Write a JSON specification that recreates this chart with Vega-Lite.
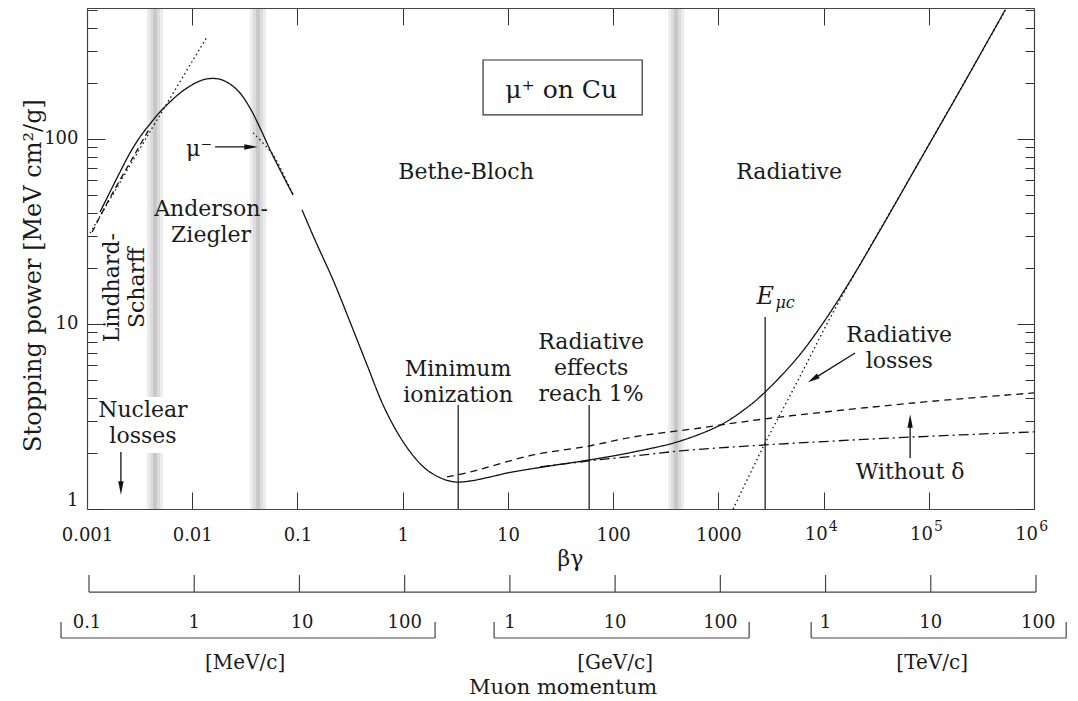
{
  "$schema": "https://vega.github.io/schema/vega-lite/v6.json",
  "width": 947,
  "height": 501,
  "autosize": {"type": "none"},
  "padding": {"left": 87, "top": 8, "right": 44, "bottom": 192},
  "background": "white",
  "config": {
    "view": {"stroke": null},
    "axis": {"labelFont": "DejaVu Serif", "titleFont": "DejaVu Serif", "labelColor": "#1a1a1a", "titleColor": "#1a1a1a", "tickColor": "#333", "domainColor": "#444", "domainWidth": 1.2, "tickWidth": 1, "grid": false},
    "text": {"font": "DejaVu Serif", "color": "#1a1a1a"}
  },
  "datasets": {
    "bands": [
      {"band": "Lindhard-Scharff / Anderson-Ziegler", "shade": "edge", "bg": 0.003718, "bg2": 0.005278, "s": 1, "s2": 510},
      {"band": "Anderson-Ziegler / Bethe-Bloch", "shade": "edge", "bg": 0.03543, "bg2": 0.05029, "s": 1, "s2": 510},
      {"band": "Bethe-Bloch / Radiative", "shade": "edge", "bg": 333.3, "bg2": 473.1, "s": 1, "s2": 510},
      {"band": "Lindhard-Scharff / Anderson-Ziegler", "shade": "mid", "bg": 0.003971, "bg2": 0.004941, "s": 1, "s2": 510},
      {"band": "Anderson-Ziegler / Bethe-Bloch", "shade": "mid", "bg": 0.03785, "bg2": 0.0471, "s": 1, "s2": 510},
      {"band": "Bethe-Bloch / Radiative", "shade": "mid", "bg": 355.9, "bg2": 443.0, "s": 1, "s2": 510},
      {"band": "Lindhard-Scharff / Anderson-Ziegler", "shade": "core", "bg": 0.00424, "bg2": 0.004628, "s": 1, "s2": 510},
      {"band": "Anderson-Ziegler / Bethe-Bloch", "shade": "core", "bg": 0.04042, "bg2": 0.0441, "s": 1, "s2": 510},
      {"band": "Bethe-Bloch / Radiative", "shade": "core", "bg": 379.9, "bg2": 414.9, "s": 1, "s2": 510}
    ],
    "patch": [{"bg": 0.0036, "bg2": 0.0056, "s": 2.01, "s2": 4.03}],
    "box": [{"bg": 5.81, "bg2": 189, "s": 135, "s2": 267}],
    "curves": [
      {"curve": "total (low βγ)", "bg": 0.00133, "s": 40.3},
      {"curve": "total (low βγ)", "bg": 0.001654, "s": 51.7},
      {"curve": "total (low βγ)", "bg": 0.00206, "s": 66.3},
      {"curve": "total (low βγ)", "bg": 0.002563, "s": 84.0},
      {"curve": "total (low βγ)", "bg": 0.00319, "s": 102.5},
      {"curve": "total (low βγ)", "bg": 0.003972, "s": 120.5},
      {"curve": "total (low βγ)", "bg": 0.00494, "s": 140},
      {"curve": "total (low βγ)", "bg": 0.00615, "s": 158.5},
      {"curve": "total (low βγ)", "bg": 0.00766, "s": 177},
      {"curve": "total (low βγ)", "bg": 0.00953, "s": 193},
      {"curve": "total (low βγ)", "bg": 0.01186, "s": 206},
      {"curve": "total (low βγ)", "bg": 0.01476, "s": 212},
      {"curve": "total (low βγ)", "bg": 0.01837, "s": 210},
      {"curve": "total (low βγ)", "bg": 0.02286, "s": 198},
      {"curve": "total (low βγ)", "bg": 0.02846, "s": 177},
      {"curve": "total (low βγ)", "bg": 0.03541, "s": 147},
      {"curve": "total (low βγ)", "bg": 0.0441, "s": 114.7},
      {"curve": "total (low βγ)", "bg": 0.05495, "s": 87.3},
      {"curve": "total (low βγ)", "bg": 0.0684, "s": 68},
      {"curve": "total (low βγ)", "bg": 0.0908, "s": 49.8},
      {"curve": "total", "bg": 0.1107, "s": 41.3},
      {"curve": "total", "bg": 0.1469, "s": 28.4},
      {"curve": "total", "bg": 0.218, "s": 17.3},
      {"curve": "total", "bg": 0.3162, "s": 10.25},
      {"curve": "total", "bg": 0.459, "s": 6.0},
      {"curve": "total", "bg": 0.6514, "s": 3.65},
      {"curve": "total", "bg": 0.944, "s": 2.45},
      {"curve": "total", "bg": 1.312, "s": 1.887},
      {"curve": "total", "bg": 1.706, "s": 1.625},
      {"curve": "total", "bg": 2.42, "s": 1.453},
      {"curve": "total", "bg": 3.15, "s": 1.40},
      {"curve": "total", "bg": 4.37, "s": 1.417},
      {"curve": "total", "bg": 6.77, "s": 1.489},
      {"curve": "total", "bg": 9.82, "s": 1.565},
      {"curve": "total", "bg": 25.2, "s": 1.71},
      {"curve": "total", "bg": 59.2, "s": 1.84},
      {"curve": "total", "bg": 155, "s": 2.03},
      {"curve": "total", "bg": 434, "s": 2.33},
      {"curve": "total", "bg": 1040, "s": 2.84},
      {"curve": "total", "bg": 1799, "s": 3.472},
      {"curve": "total", "bg": 2786, "s": 4.29},
      {"curve": "total", "bg": 5610, "s": 6.55},
      {"curve": "total", "bg": 9910, "s": 10.13},
      {"curve": "total", "bg": 17900, "s": 17.08},
      {"curve": "total", "bg": 34500, "s": 32.2},
      {"curve": "total", "bg": 82800, "s": 76.9},
      {"curve": "total", "bg": 199000, "s": 184},
      {"curve": "total", "bg": 532000, "s": 498},
      {"curve": "ionization, without δ", "bg": 2.64, "s": 1.49},
      {"curve": "ionization, without δ", "bg": 4.37, "s": 1.585},
      {"curve": "ionization, without δ", "bg": 17.4, "s": 1.959},
      {"curve": "ionization, without δ", "bg": 59.2, "s": 2.19},
      {"curve": "ionization, without δ", "bg": 155, "s": 2.45},
      {"curve": "ionization, without δ", "bg": 672, "s": 2.74},
      {"curve": "ionization, without δ", "bg": 2786, "s": 3.07},
      {"curve": "ionization, without δ", "bg": 71100, "s": 3.74},
      {"curve": "ionization, without δ", "bg": 1000000, "s": 4.24},
      {"curve": "ionization", "bg": 20.2, "s": 1.687},
      {"curve": "ionization", "bg": 59.2, "s": 1.82},
      {"curve": "ionization", "bg": 155, "s": 1.93},
      {"curve": "ionization", "bg": 434, "s": 2.06},
      {"curve": "ionization", "bg": 2786, "s": 2.22},
      {"curve": "ionization", "bg": 71100, "s": 2.45},
      {"curve": "ionization", "bg": 1000000, "s": 2.61},
      {"curve": "radiative", "bg": 1383, "s": 1},
      {"curve": "radiative", "bg": 2667, "s": 2.163},
      {"curve": "radiative", "bg": 5610, "s": 4.86},
      {"curve": "radiative", "bg": 11560, "s": 10.8},
      {"curve": "radiative", "bg": 25950, "s": 24.5},
      {"curve": "radiative", "bg": 59700, "s": 55.7},
      {"curve": "radiative", "bg": 544500, "s": 504},
      {"curve": "Lindhard-Scharff", "bg": 0.00112, "s": 31.4},
      {"curve": "Lindhard-Scharff", "bg": 0.001484, "s": 42.9},
      {"curve": "Lindhard-Scharff", "bg": 0.00206, "s": 60},
      {"curve": "Lindhard-Scharff", "bg": 0.002858, "s": 83},
      {"curve": "Lindhard-Scharff", "bg": 0.003972, "s": 115},
      {"curve": "Anderson-Ziegler fit", "bg": 0.00107, "s": 31},
      {"curve": "Anderson-Ziegler fit", "bg": 0.0038, "s": 105},
      {"curve": "Anderson-Ziegler fit", "bg": 0.01384, "s": 356},
      {"curve": "μ⁻", "bg": 0.0379, "s": 107.8},
      {"curve": "μ⁻", "bg": 0.0586, "s": 82},
      {"curve": "μ⁻", "bg": 0.0796, "s": 58.6},
      {"curve": "μ⁻", "bg": 0.0908, "s": 50.4}
    ],
    "markers": [
      {"name": "Minimum ionization", "bg": 3.37, "s": 1, "s2": 3.65},
      {"name": "Radiative effects reach 1%", "bg": 59.2, "s": 1, "s2": 3.65},
      {"name": "Eμc", "bg": 2786, "s": 1, "s2": 10.9}
    ],
    "arrows": [
      {"name": "μ⁻", "bg": 0.0165, "bg2": 0.0379, "s": 90.5, "s2": 90.5},
      {"name": "Nuclear losses", "bg": 0.0021, "bg2": 0.0021, "s": 2.03, "s2": 1.3},
      {"name": "Radiative losses", "bg": 19950, "bg2": 8318, "s": 6.97, "s2": 5.11},
      {"name": "Without δ", "bg": 66500, "bg2": 66500, "s": 1.888, "s2": 2.9}
    ],
    "heads": [
      {"name": "μ⁻", "dir": "right", "bg": 0.03622, "s": 90.5},
      {"name": "Nuclear losses", "dir": "down", "bg": 0.0021, "s": 1.299},
      {"name": "Without δ", "dir": "up", "bg": 66500, "s": 2.99},
      {"name": "Radiative losses", "dir": "down-left", "bg": 7962, "s": 5.04}
    ],
    "labels": [
      {"label": "Bethe-Bloch", "bg": 4.0, "s": 66.3},
      {"label": "Radiative", "bg": 4710, "s": 66.3},
      {"label": "Anderson-\nZiegler", "bg": 0.0151, "s": 41.8},
      {"label": "Nuclear\nlosses", "bg": 0.0034, "s": 3.43},
      {"label": "Minimum\nionization", "bg": 3.36, "s": 5.71},
      {"label": "Radiative\neffects\nreach 1%", "bg": 61.8, "s": 7.99},
      {"label": "Radiative\nlosses", "bg": 52360, "s": 8.72},
      {"label": "Without δ", "bg": 66500, "s": 1.585},
      {"label": "μ⁻", "bg": 0.01161, "s": 88.3}
    ],
    "vlabels": [{"label": "Lindhard-\nScharff", "bg": 0.001729, "s": 15.7}],
    "boxlabel": [{"label": "μ⁺ on Cu", "bg": 32.1, "s": 184}],
    "elabel": [{"label": "E", "bg": 2786, "s": 14.0}],
    "esub": [{"label": "μc", "bg": 4315, "s": 13.0}],
    "powbase": [
      {"label": "10", "bg": 8507, "s": 0.7236},
      {"label": "10", "bg": 85070, "s": 0.7236},
      {"label": "10", "bg": 850700, "s": 0.7236}
    ],
    "powexp": [
      {"label": "4", "bg": 12340, "s": 0.7993},
      {"label": "5", "bg": 123400, "s": 0.7993},
      {"label": "6", "bg": 1234000, "s": 0.7993}
    ],
    "momrules": [
      {"part": "axis", "bg": 0.0010447, "bg2": 1044700, "s": 0.3558, "s2": 0.3558},
      {"part": "tick", "bg": 0.0010447, "bg2": 0.0010447, "s": 0.3558, "s2": 0.4397},
      {"part": "tick", "bg": 0.010447, "bg2": 0.010447, "s": 0.3558, "s2": 0.4397},
      {"part": "tick", "bg": 0.10447, "bg2": 0.10447, "s": 0.3558, "s2": 0.4397},
      {"part": "tick", "bg": 1.0447, "bg2": 1.0447, "s": 0.3558, "s2": 0.4397},
      {"part": "tick", "bg": 10.447, "bg2": 10.447, "s": 0.3558, "s2": 0.4397},
      {"part": "tick", "bg": 104.47, "bg2": 104.47, "s": 0.3558, "s2": 0.4397},
      {"part": "tick", "bg": 1044.7, "bg2": 1044.7, "s": 0.3558, "s2": 0.4397},
      {"part": "tick", "bg": 10447, "bg2": 10447, "s": 0.3558, "s2": 0.4397},
      {"part": "tick", "bg": 104470, "bg2": 104470, "s": 0.3558, "s2": 0.4397},
      {"part": "tick", "bg": 1044700, "bg2": 1044700, "s": 0.3558, "s2": 0.4397},
      {"part": "MeV", "bg": 0.000566, "bg2": 2.032, "s": 0.2008, "s2": 0.2008},
      {"part": "MeV", "bg": 0.000566, "bg2": 0.000566, "s": 0.2008, "s2": 0.245},
      {"part": "MeV", "bg": 2.032, "bg2": 2.032, "s": 0.2008, "s2": 0.245},
      {"part": "GeV", "bg": 7.396, "bg2": 1963, "s": 0.2008, "s2": 0.2008},
      {"part": "GeV", "bg": 7.396, "bg2": 7.396, "s": 0.2008, "s2": 0.245},
      {"part": "GeV", "bg": 1963, "bg2": 1963, "s": 0.2008, "s2": 0.245},
      {"part": "TeV", "bg": 7624, "bg2": 2023000, "s": 0.2008, "s2": 0.2008},
      {"part": "TeV", "bg": 7624, "bg2": 7624, "s": 0.2008, "s2": 0.245},
      {"part": "TeV", "bg": 2023000, "bg2": 2023000, "s": 0.2008, "s2": 0.245}
    ],
    "momlabels": [
      {"label": "0.1", "bg": 0.001, "s": 0.2419},
      {"label": "1", "bg": 0.010447, "s": 0.2419},
      {"label": "10", "bg": 0.1107, "s": 0.2419},
      {"label": "100", "bg": 1.0447, "s": 0.2419},
      {"label": "1", "bg": 10.447, "s": 0.2419},
      {"label": "10", "bg": 104.47, "s": 0.2419},
      {"label": "100", "bg": 1044.7, "s": 0.2419},
      {"label": "1", "bg": 10447, "s": 0.2419},
      {"label": "10", "bg": 104470, "s": 0.2419},
      {"label": "100", "bg": 1096000, "s": 0.2419}
    ],
    "units": [
      {"label": "[MeV/c]", "bg": 0.03177, "s": 0.1471},
      {"label": "[GeV/c]", "bg": 104.5, "s": 0.1471},
      {"label": "[TeV/c]", "bg": 107700, "s": 0.1471}
    ],
    "momtitle": [{"label": "Muon momentum", "bg": 33.5, "s": 0.1077}]
  },
  "layer": [
    {
      "encoding": {
        "x": {
          "field": "bg", "type": "quantitative",
          "scale": {"type": "log", "domain": [0.001, 1000000], "nice": false},
          "axis": {
            "orient": "bottom",
            "values": [0.001, 0.01, 0.1, 1, 10, 100, 1000, 10000, 100000, 1000000],
            "labelExpr": "datum.value >= 10000 ? '' : format(datum.value, '')",
            "tickSize": -17, "labelPadding": 34, "labelFontSize": 18,
            "labelFlush": false, "labelOverlap": false,
            "title": "βγ", "titleFontSize": 22, "titleFontWeight": "normal",
            "titleX": 483, "titleY": 49, "titleBaseline": "middle",
            "zindex": 1
          }
        },
        "y": {
          "field": "s", "type": "quantitative",
          "scale": {"type": "log", "domain": [1, 510], "nice": false},
          "axis": {
            "orient": "left",
            "values": [1, 2, 3, 4, 5, 6, 7, 8, 9, 10, 20, 30, 40, 50, 60, 70, 80, 90, 100, 200, 300, 400, 500],
            "labelExpr": "datum.value == 1 ? '1' : datum.value == 10 ? '10' : datum.value == 100 ? '100' : ''",
            "tickSize": {"condition": {"test": "datum.value == 1 || datum.value == 10 || datum.value == 100", "value": -18}, "value": -10},
            "labelPadding": 27, "labelFontSize": 18, "labelFlush": true, "labelOverlap": false,
            "title": "Stopping power [MeV cm²/g]", "titleFontSize": 24, "titleFontWeight": "normal",
            "titleAngle": 270, "titleX": -47, "titleY": 267, "titleBaseline": "alphabetic", "titleAlign": "center",
            "zindex": 1
          }
        }
      },
      "layer": [
        {
          "data": {"name": "bands"},
          "mark": {"type": "rect"},
          "encoding": {
            "x2": {"field": "bg2"},
            "y2": {"field": "s2"},
            "color": {"field": "shade", "type": "nominal", "scale": {"domain": ["edge", "mid", "core"], "range": ["#ececec", "#dcdcdc", "#c8c8c8"]}, "legend": null}
          }
        },
        {
          "data": {"name": "patch"},
          "mark": {"type": "rect", "color": "white"},
          "encoding": {"x2": {"field": "bg2"}, "y2": {"field": "s2"}}
        },
        {
          "data": {"name": "box"},
          "mark": {"type": "rect", "fill": "white", "stroke": "#333", "strokeWidth": 1.2},
          "encoding": {"x2": {"field": "bg2"}, "y2": {"field": "s2"}}
        },
        {
          "data": {"name": "curves"},
          "mark": {"type": "line", "color": "#111", "strokeWidth": 1.3, "interpolate": "catmull-rom"},
          "encoding": {
            "strokeDash": {
              "field": "curve", "type": "nominal",
              "scale": {
                "domain": ["total (low βγ)", "total", "ionization, without δ", "ionization", "radiative", "Lindhard-Scharff", "Anderson-Ziegler fit", "μ⁻"],
                "range": [[1, 0], [1, 0], [7, 5], [10, 4, 2, 4], [1.5, 3], [6, 4], [1.5, 3], [1.5, 3]]
              },
              "legend": null
            }
          }
        },
        {
          "data": {"name": "markers"},
          "mark": {"type": "rule", "color": "#111", "strokeWidth": 1.2},
          "encoding": {"y2": {"field": "s2"}}
        },
        {
          "data": {"name": "arrows"},
          "mark": {"type": "rule", "color": "#111", "strokeWidth": 1.3},
          "encoding": {"x2": {"field": "bg2"}, "y2": {"field": "s2"}}
        },
        {
          "data": {"name": "heads"},
          "mark": {"type": "point", "filled": true, "color": "#111", "opacity": 1, "size": 180, "strokeWidth": 0},
          "encoding": {
            "shape": {
              "field": "dir", "type": "nominal",
              "scale": {
                "domain": ["right", "down", "up", "down-left"],
                "range": ["M-1,-0.4L1,0L-1,0.4Z", "M-0.4,-1L0,1L0.4,-1Z", "M-0.4,1L0,-1L0.4,1Z", "M-0.77,0.47L0.98,-0.13L0.56,-0.81Z"]
              },
              "legend": null
            }
          }
        },
        {
          "data": {"name": "labels"},
          "mark": {"type": "text", "fontSize": 22, "align": "center", "baseline": "middle", "lineBreak": "\n", "lineHeight": 26},
          "encoding": {"text": {"field": "label"}}
        },
        {
          "data": {"name": "vlabels"},
          "mark": {"type": "text", "fontSize": 22, "angle": 270, "align": "center", "baseline": "middle", "lineBreak": "\n", "lineHeight": 25},
          "encoding": {"text": {"field": "label"}}
        },
        {
          "data": {"name": "boxlabel"},
          "mark": {"type": "text", "fontSize": 25, "align": "center", "baseline": "middle"},
          "encoding": {"text": {"field": "label"}}
        },
        {
          "data": {"name": "elabel"},
          "mark": {"type": "text", "fontSize": 24, "fontStyle": "italic", "align": "center", "baseline": "middle"},
          "encoding": {"text": {"field": "label"}}
        },
        {
          "data": {"name": "esub"},
          "mark": {"type": "text", "fontSize": 16, "fontStyle": "italic", "align": "center", "baseline": "middle"},
          "encoding": {"text": {"field": "label"}}
        },
        {
          "data": {"name": "powbase"},
          "mark": {"type": "text", "fontSize": 18, "align": "center", "baseline": "middle"},
          "encoding": {"text": {"field": "label"}}
        },
        {
          "data": {"name": "powexp"},
          "mark": {"type": "text", "fontSize": 14, "align": "center", "baseline": "middle"},
          "encoding": {"text": {"field": "label"}}
        },
        {
          "data": {"name": "momrules"},
          "mark": {"type": "rule", "color": "#444", "strokeWidth": 1.2},
          "encoding": {"x2": {"field": "bg2"}, "y2": {"field": "s2"}}
        },
        {
          "data": {"name": "momlabels"},
          "mark": {"type": "text", "fontSize": 18, "align": "center", "baseline": "middle"},
          "encoding": {"text": {"field": "label"}}
        },
        {
          "data": {"name": "units"},
          "mark": {"type": "text", "fontSize": 20, "align": "center", "baseline": "middle"},
          "encoding": {"text": {"field": "label"}}
        },
        {
          "data": {"name": "momtitle"},
          "mark": {"type": "text", "fontSize": 21, "align": "center", "baseline": "middle"},
          "encoding": {"text": {"field": "label"}}
        }
      ]
    },
    {
      "data": {"values": [{"bg": 1, "s": 1}]},
      "mark": {"type": "point", "opacity": 0},
      "encoding": {
        "x": {
          "field": "bg", "type": "quantitative",
          "scale": {"type": "log", "domain": [0.001, 1000000], "nice": false},
          "axis": {"orient": "top", "values": [0.001, 0.01, 0.1, 1, 10, 100, 1000, 10000, 100000, 1000000], "labels": false, "tickSize": -17, "title": null, "zindex": 1}
        },
        "y": {
          "field": "s", "type": "quantitative",
          "scale": {"type": "log", "domain": [1, 510], "nice": false},
          "axis": {
            "orient": "right",
            "values": [1, 2, 3, 4, 5, 6, 7, 8, 9, 10, 20, 30, 40, 50, 60, 70, 80, 90, 100, 200, 300, 400, 500],
            "labels": false,
            "tickSize": {"condition": {"test": "datum.value == 1 || datum.value == 10 || datum.value == 100", "value": -17}, "value": -9},
            "title": null, "zindex": 1
          }
        }
      }
    }
  ],
  "resolve": {"scale": {"x": "independent", "y": "independent"}}
}
